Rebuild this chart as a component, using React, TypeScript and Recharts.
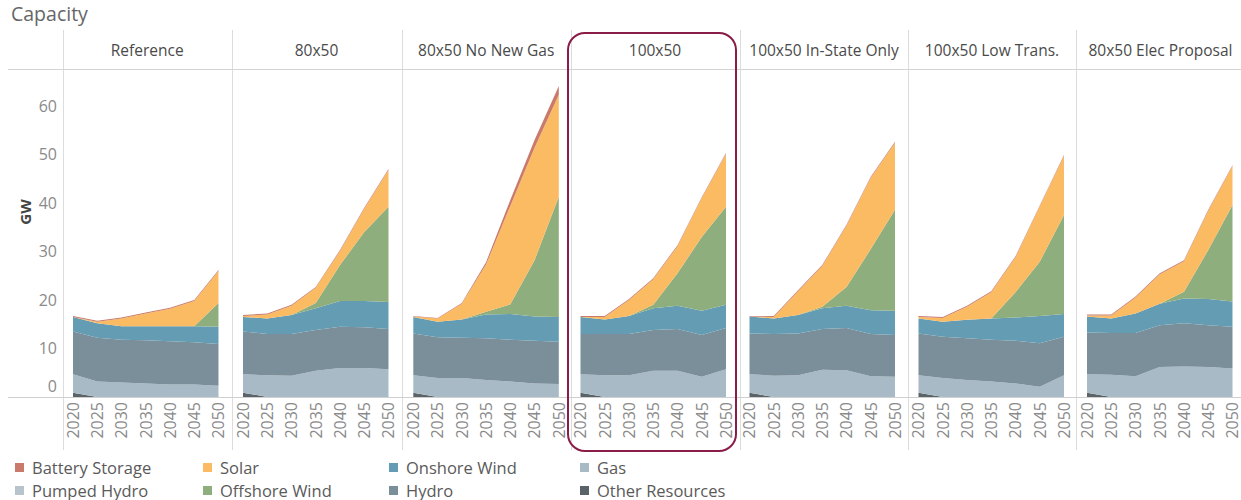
import { AreaChart, Area, XAxis, YAxis } from "recharts";

const scenarios = [
  "Reference",
  "80x50",
  "80x50 No New Gas",
  "100x50",
  "100x50 In-State Only",
  "100x50 Low Trans.",
  "80x50 Elec Proposal",
];
const years = [2020, 2025, 2030, 2035, 2040, 2045, 2050];
const yTicks = [0, 10, 20, 30, 40, 50, 60];

// GW by year, one row per scenario (same order as scenarios)
const otherResources = [
  [0.9, 0, 0, 0, 0, 0, 0],
  [0.9, 0, 0, 0, 0, 0, 0],
  [0.9, 0, 0, 0, 0, 0, 0],
  [0.9, 0, 0, 0, 0, 0, 0],
  [0.9, 0, 0, 0, 0, 0, 0],
  [0.9, 0, 0, 0, 0, 0, 0],
  [0.9, 0, 0, 0, 0, 0, 0],
];
const gas = [
  [3.8, 3.2, 3.0, 2.8, 2.6, 2.6, 2.3],
  [3.8, 4.5, 4.4, 5.4, 6.0, 6.0, 5.7],
  [3.6, 3.9, 3.9, 3.5, 3.2, 2.8, 2.7],
  [3.8, 4.5, 4.5, 5.4, 5.4, 4.2, 5.7],
  [3.8, 4.4, 4.5, 5.6, 5.5, 4.3, 4.2],
  [3.6, 3.9, 3.5, 3.2, 2.8, 2.1, 4.5],
  [3.8, 4.6, 4.3, 6.2, 6.3, 6.2, 5.9],
];
const hydro = [
  [8.8, 9.0, 8.8, 8.9, 8.9, 8.7, 8.6],
  [8.8, 8.5, 8.6, 8.4, 8.5, 8.4, 8.3],
  [8.6, 8.4, 8.3, 8.6, 8.6, 8.8, 8.7],
  [8.3, 8.5, 8.5, 8.4, 8.6, 8.6, 8.5],
  [8.4, 8.6, 8.6, 8.4, 8.7, 8.7, 8.6],
  [8.6, 8.5, 8.6, 8.6, 8.8, 9.0, 7.9],
  [8.6, 8.6, 8.9, 8.6, 8.9, 8.6, 8.6],
];
const onshoreWind = [
  [3.0, 3.0, 2.8, 2.9, 3.1, 3.3, 3.6],
  [3.0, 3.2, 3.9, 4.5, 5.3, 5.4, 5.6],
  [3.4, 3.2, 3.8, 4.9, 5.3, 5.0, 5.1],
  [3.5, 3.0, 3.7, 4.5, 4.8, 5.0, 4.8],
  [3.5, 3.2, 3.8, 4.3, 4.6, 4.9, 5.0],
  [3.1, 3.1, 3.8, 4.4, 4.8, 5.6, 4.7],
  [3.3, 3.0, 4.0, 4.4, 5.1, 5.4, 5.2],
];
const offshoreWind = [
  [0, 0, 0, 0, 0, 0, 4.9],
  [0, 0, 0, 1.1, 7.4, 14.2, 19.6],
  [0, 0, 0, 0.6, 2.0, 11.6, 24.8],
  [0, 0, 0, 0.7, 6.7, 15.2, 20.2],
  [0, 0, 0, 0.3, 3.9, 12.6, 20.8],
  [0, 0, 0, 0, 5.2, 11.2, 20.4],
  [0, 0, 0, 0, 1.4, 10.1, 19.9],
];
const solar = [
  [0.0, 0.3, 1.6, 2.6, 3.6, 5.2, 6.6],
  [0.2, 0.8, 1.9, 3.1, 2.9, 4.8, 7.6],
  [0.1, 0.7, 3.2, 9.7, 20.3, 23.2, 21.0],
  [0.0, 0.5, 3.3, 5.3, 5.6, 8.0, 10.9],
  [0.0, 0.3, 4.9, 8.4, 12.6, 14.7, 13.8],
  [0.3, 0.8, 2.7, 5.4, 7.2, 11.4, 12.2],
  [0.2, 0.6, 3.3, 6.1, 6.3, 8.1, 8.0],
];
const pumpedHydro = [
  [0, 0, 0, 0, 0, 0, 0],
  [0, 0, 0, 0, 0, 0, 0],
  [0, 0, 0, 0, 0, 0, 0],
  [0, 0, 0, 0, 0, 0, 0],
  [0, 0, 0, 0, 0, 0, 0],
  [0, 0, 0, 0, 0, 0, 0],
  [0, 0, 0, 0, 0, 0, 0],
];
const batteryStorage = [
  [0.2, 0.2, 0.2, 0.2, 0.2, 0.2, 0.2],
  [0.2, 0.2, 0.2, 0.2, 0.2, 0.2, 0.2],
  [0.1, 0.1, 0.2, 0.5, 1.2, 1.6, 1.8],
  [0.2, 0.2, 0.2, 0.2, 0.2, 0.2, 0.2],
  [0.1, 0.2, 0.2, 0.2, 0.2, 0.2, 0.2],
  [0.2, 0.2, 0.2, 0.2, 0.2, 0.2, 0.2],
  [0.2, 0.2, 0.2, 0.2, 0.2, 0.2, 0.2],
];

// bottom of the stack first
const series = [
  { key: "other", name: "Other Resources", color: "#5a6367", values: otherResources },
  { key: "gas", name: "Gas", color: "#a8bac5", values: gas },
  { key: "hydro", name: "Hydro", color: "#7b8f9a", values: hydro },
  { key: "onshore", name: "Onshore Wind", color: "#649db3", values: onshoreWind },
  { key: "offshore", name: "Offshore Wind", color: "#8fae7e", values: offshoreWind },
  { key: "solar", name: "Solar", color: "#fbbb63", values: solar },
  { key: "pumped", name: "Pumped Hydro", color: "#b7c4cc", values: pumpedHydro },
  { key: "battery", name: "Battery Storage", color: "#c97a6a", values: batteryStorage },
];

const legendColumns = [
  ["battery", "pumped"],
  ["solar", "offshore"],
  ["onshore", "hydro"],
  ["gas", "other"],
];
const legendX = [15, 203, 389, 580];

const font = "'Open Sans', sans-serif";
const panelLeft = [62.7, 232, 401.7, 570.5, 739.5, 907.5, 1076];
const plotLeft = [73, 243, 413, 580, 749, 918, 1087];
const plotWidth = 145.5;
const plotTop = 72;
const plotHeight = 325;
const axisHeight = 55;

const rowsFor = (s: number) =>
  years.map((year, j) => {
    const row: Record<string, number> = { year };
    series.forEach((sr) => {
      row[sr.key] = sr.values[s][j];
    });
    return row;
  });

const YearTick = ({ x, y, payload }: any) => (
  <text
    x={0}
    y={0}
    transform={`translate(${x},${y}) rotate(-90)`}
    textAnchor="end"
    dy="0.36em"
    fill="#8a8a8a"
    fontSize={16}
    fontFamily={font}
  >
    {payload.value}
  </text>
);

const GwTick = ({ x, y, payload }: any) => (
  <text
    x={x}
    y={y}
    dy={payload.value === 0 ? "-0.3em" : "0.36em"}
    textAnchor="end"
    fill="#8a8a8a"
    fontSize={16}
    fontFamily={font}
  >
    {payload.value}
  </text>
);

const Panel = ({ index }: { index: number }) => {
  const first = index === 0;
  const left = first ? 8 : panelLeft[index];
  const right = Math.min(panelLeft[index] + 169, 1241);
  const width = right - left;
  const marginLeft = first ? 0 : plotLeft[index] - left;
  const yWidth = first ? plotLeft[0] - left : 0;
  const marginRight = width - yWidth - marginLeft - plotWidth;
  return (
    <div style={{ position: "absolute", left, top: plotTop }}>
      <AreaChart
        width={width}
        height={plotHeight + axisHeight}
        data={rowsFor(index)}
        margin={{ top: 0, right: marginRight, bottom: 0, left: marginLeft }}
        style={{ overflow: "visible" }}
      >
        <XAxis
          dataKey="year"
          type="number"
          domain={[2020, 2050]}
          ticks={years}
          interval={0}
          axisLine={false}
          tickLine={false}
          tickSize={0}
          tickMargin={5}
          height={axisHeight}
          tick={<YearTick />}
        />
        <YAxis
          hide={!first}
          width={yWidth}
          type="number"
          domain={[0, 67]}
          ticks={yTicks}
          interval={0}
          axisLine={false}
          tickLine={false}
          tickSize={6}
          tickMargin={10}
          tick={<GwTick />}
        />
        {series.map((sr) => (
          <Area
            key={sr.key}
            dataKey={sr.key}
            name={sr.name}
            stackId="cap"
            type="linear"
            stroke="none"
            fill={sr.color}
            fillOpacity={1}
            dot={false}
            activeDot={false}
            isAnimationActive={false}
          />
        ))}
      </AreaChart>
    </div>
  );
};

export default function App() {
  return (
    <div
      style={{
        position: "absolute",
        left: 0,
        top: 0,
        width: 1241,
        height: 500,
        background: "#fff",
        fontFamily: font,
        overflow: "hidden",
      }}
    >
      <div style={{ position: "absolute", left: 11, top: 0, fontSize: 19.5, color: "#666" }}>
        Capacity
      </div>

      {panelLeft.map((x, i) => (
        <div
          key={"v" + i}
          style={{ position: "absolute", left: x, top: 30, width: 1, height: 420, background: "#dcdcdc" }}
        />
      ))}
      <div style={{ position: "absolute", left: 8, top: 69, width: 1233, height: 1, background: "#d4d4d4" }} />

      {scenarios.map((name, i) => (
        <div
          key={name}
          style={{
            position: "absolute",
            left: panelLeft[i],
            top: 39,
            width: 169,
            textAlign: "center",
            fontSize: 15.5,
            color: "#4a4a4a",
            whiteSpace: "nowrap",
          }}
        >
          {name}
        </div>
      ))}

      <div
        style={{
          position: "absolute",
          left: 8,
          top: 201,
          width: 34,
          height: 22,
          lineHeight: "22px",
          transform: "rotate(-90deg)",
          fontSize: 15,
          fontWeight: 700,
          color: "#444",
          textAlign: "center",
        }}
      >
        GW
      </div>

      {scenarios.map((name, i) => (
        <Panel key={name} index={i} />
      ))}

      <div style={{ position: "absolute", left: 8, top: 397, width: 1233, height: 1, background: "#cfcfcf" }} />

      <div
        style={{
          position: "absolute",
          left: 567,
          top: 32,
          width: 170,
          height: 420,
          boxSizing: "border-box",
          border: "2.5px solid #8a1c48",
          borderRadius: 18,
        }}
      />

      {legendColumns.map((col, c) =>
        col.map((key, r) => {
          const sr = series.find((s) => s.key === key)!;
          return (
            <div
              key={key}
              style={{
                position: "absolute",
                left: legendX[c],
                top: 456 + r * 23,
                display: "flex",
                alignItems: "center",
                fontSize: 16.5,
                color: "#5a5a5a",
                whiteSpace: "nowrap",
              }}
            >
              <span style={{ width: 9, height: 9, background: sr.color, marginRight: 8, display: "inline-block" }} />
              {sr.name}
            </div>
          );
        })
      )}
    </div>
  );
}
